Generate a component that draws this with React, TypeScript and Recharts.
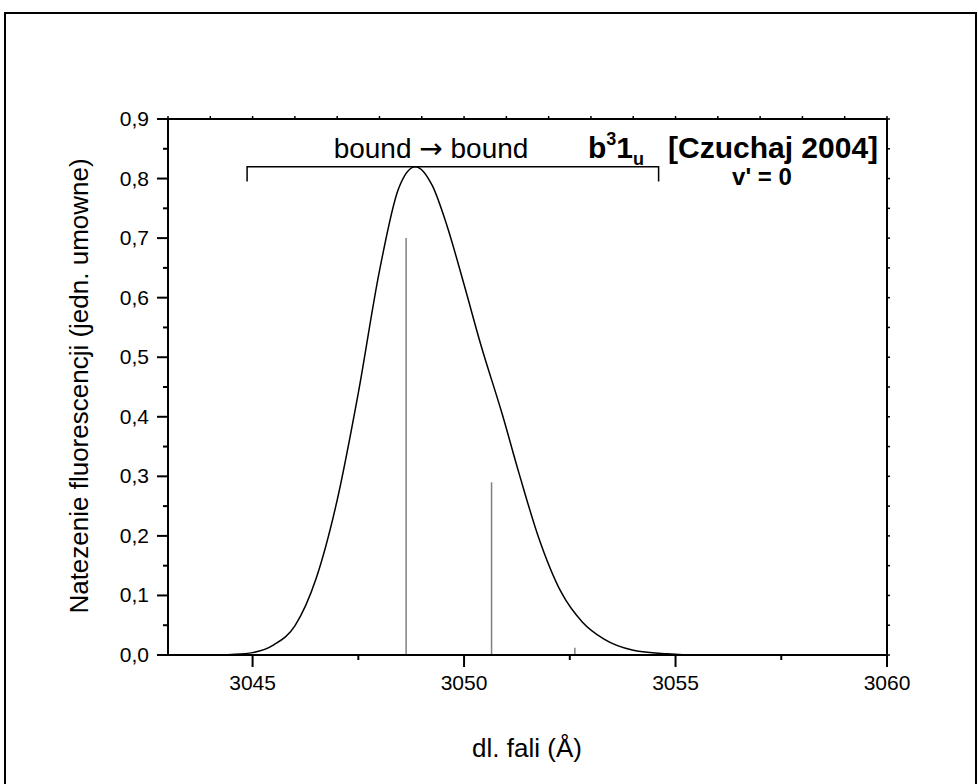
import { ComposedChart, Line, XAxis, YAxis, ReferenceLine } from 'recharts';

// wavelength (Å) and intensity
const curveX = [3044.0, 3044.5, 3045.0, 3045.5, 3046.0, 3046.5, 3047.0, 3047.5, 3048.0, 3048.45, 3048.85, 3049.25, 3049.6, 3050.0, 3050.4, 3050.9, 3051.3, 3051.75, 3052.3, 3052.8, 3053.3, 3054.0, 3054.8, 3055.5, 3060.0];
const curveY = [0, 0.001, 0.004, 0.017, 0.049, 0.128, 0.26, 0.44, 0.645, 0.783, 0.82, 0.788, 0.72, 0.622, 0.52, 0.405, 0.305, 0.2, 0.105, 0.055, 0.027, 0.008, 0.002, 0, 0];

// stick spectrum (line positions and heights)
const stickX = [3048.63, 3050.65, 3052.62];
const stickY = [0.7, 0.29, 0.012];

// "bound -> bound" bracket
const bracketX = [3044.87, 3044.87, 3054.6, 3054.6];
const bracketY = [0.795, 0.82, 0.82, 0.795];

const xTicks = [3045, 3047.5, 3050, 3052.5, 3055, 3057.5, 3060];
const xMajor = [3045, 3050, 3055, 3060];
const topTicks = [3043, 3044, 3045, 3046, 3047, 3048, 3049, 3050, 3051, 3052, 3053, 3054, 3055, 3056, 3057, 3058, 3059, 3060];
const yTicks = [0, 0.05, 0.1, 0.15, 0.2, 0.25, 0.3, 0.35, 0.4, 0.45, 0.5, 0.55, 0.6, 0.65, 0.7, 0.75, 0.8, 0.85, 0.9];

const curveData = curveX.map((x, i) => ({ x, y: curveY[i] }));
const bracketData = bracketX.map((x, i) => ({ x, y: bracketY[i] }));

const FONT = 'Arial, "Liberation Sans", sans-serif';
const axisStyle = { stroke: '#000', strokeWidth: 2 };

function BottomTick(props: any) {
  const { x, y, payload } = props;
  const major = xMajor.includes(payload.value);
  return (
    <g>
      <line x1={x} x2={x} y1={y} y2={y + (major ? 12 : 5)} stroke="#000" strokeWidth={2} />
      {major && (
        <text x={x} y={y + 35} textAnchor="middle" fontSize={21} fontFamily={FONT} fill="#000">
          {payload.value}
        </text>
      )}
    </g>
  );
}

function LeftTick(props: any) {
  const { x, y, payload } = props;
  const major = Math.round(payload.value * 100) % 10 === 0;
  return (
    <g>
      <line x1={x} x2={x - (major ? 11 : 5)} y1={y} y2={y} stroke="#000" strokeWidth={2} />
      {major && (
        <text x={x - 19} y={y + 7} textAnchor="end" fontSize={21} fontFamily={FONT} fill="#000">
          {payload.value.toFixed(1).replace('.', ',')}
        </text>
      )}
    </g>
  );
}

function TopTick(props: any) {
  const { x, y } = props;
  return <line x1={x} x2={x} y1={y} y2={y - 3} stroke="#000" strokeWidth={1.5} />;
}

function RightTick(props: any) {
  const { x, y } = props;
  return <line x1={x} x2={x + 3} y1={y} y2={y} stroke="#000" strokeWidth={1.5} />;
}

export default function App() {
  return (
    <div style={{ position: 'absolute', left: 0, top: 0, width: 978, height: 784, overflow: 'hidden', background: '#fff' }}>
      <div
        style={{
          position: 'absolute',
          left: 4,
          top: 12,
          width: 973,
          height: 800,
          boxSizing: 'border-box',
          border: '2px solid #000',
        }}
      />
      <div style={{ position: 'absolute', left: 0, top: 0 }}>
        <ComposedChart width={978} height={784} margin={{ top: 109, right: 81, bottom: 89, left: 108 }}>
          <XAxis
            xAxisId="bottom"
            type="number"
            dataKey="x"
            domain={[3043, 3060]}
            ticks={xTicks}
            interval={0}
            height={40}
            tickSize={0}
            tickMargin={0}
            tickLine={false}
            axisLine={axisStyle}
            tick={(p: any) => <BottomTick {...p} />}
            allowDataOverflow
          />
          <XAxis
            xAxisId="top"
            orientation="top"
            type="number"
            dataKey="x"
            domain={[3043, 3060]}
            ticks={topTicks}
            interval={0}
            height={10}
            tickSize={0}
            tickMargin={0}
            tickLine={false}
            axisLine={axisStyle}
            tick={(p: any) => <TopTick {...p} />}
            allowDataOverflow
          />
          <YAxis
            yAxisId="left"
            type="number"
            domain={[0, 0.9]}
            ticks={yTicks}
            interval={0}
            width={60}
            tickSize={0}
            tickMargin={0}
            tickLine={false}
            axisLine={axisStyle}
            tick={(p: any) => <LeftTick {...p} />}
            allowDataOverflow
          />
          <YAxis
            yAxisId="right"
            orientation="right"
            type="number"
            domain={[0, 0.9]}
            ticks={yTicks}
            interval={0}
            width={10}
            tickSize={0}
            tickMargin={0}
            tickLine={false}
            axisLine={axisStyle}
            tick={(p: any) => <RightTick {...p} />}
            allowDataOverflow
          />
          {stickX.map((sx, i) => (
            <ReferenceLine
              key={'s' + i}
              xAxisId="bottom"
              yAxisId="left"
              segment={[{ x: sx, y: 0 }, { x: sx, y: stickY[i] }]}
              stroke="#808080"
              strokeWidth={1.5}
            />
          ))}
          <Line
            xAxisId="bottom"
            yAxisId="left"
            data={curveData}
            dataKey="y"
            type="monotone"
            stroke="#000"
            strokeWidth={1.5}
            dot={false}
            isAnimationActive={false}
          />
          <Line
            xAxisId="bottom"
            yAxisId="left"
            data={bracketData}
            dataKey="y"
            type="linear"
            stroke="#000"
            strokeWidth={1.5}
            dot={false}
            isAnimationActive={false}
          />
        </ComposedChart>
      </div>
      <svg
        width={978}
        height={784}
        style={{ position: 'absolute', left: 0, top: 0, pointerEvents: 'none' }}
        fontFamily={FONT}
      >
        <text x={431} y={158} textAnchor="middle" fontSize={28} fill="#000">
          bound <tspan fontFamily='"DejaVu Sans", sans-serif'>→</tspan> bound
        </text>
        <text x={588} y={158} fontSize={30} fontWeight="bold" fill="#000">
          b
          <tspan fontSize={18} dy={-13}>3</tspan>
          <tspan fontSize={30} dy={13}>1</tspan>
          <tspan fontSize={18} dy={7}>u</tspan>
        </text>
        <text x={668} y={158} fontSize={30} fontWeight="bold" fill="#000">
          [Czuchaj 2004]
        </text>
        <text x={762} y={185} textAnchor="middle" fontSize={24} fontWeight="bold" fill="#000">
          v' = 0
        </text>
        <text x={527} y={757} textAnchor="middle" fontSize={26} fill="#000">
          dl. fali (Å)
        </text>
        <text x={88} y={386} textAnchor="middle" fontSize={26} fill="#000" transform="rotate(-90, 88, 386)">
          Natezenie fluorescencji (jedn. umowne)
        </text>
      </svg>
    </div>
  );
}
